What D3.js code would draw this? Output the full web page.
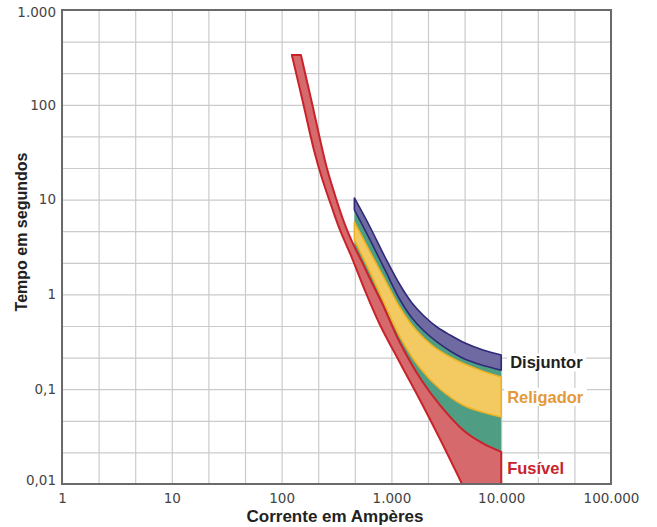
<!DOCTYPE html>
<html>
<head>
<meta charset="utf-8">
<script src="https://cdn.jsdelivr.net/npm/d3@7"></script>
<style>
  body { margin: 0; background: #fff; }
  svg { display: block; }
</style>
</head>
<body>
<div id="chart"></div>
<script>
// ticks
const xTicks = [1, 10, 100, 1000, 10000, 100000];
const xTickLabels = ["1", "10", "100", "1.000", "10.000", "100.000"];
const yTicks = [0.01, 0.1, 1, 10, 100, 1000];
const yTickLabels = ["0,01", "0,1", "1", "10", "100", "1.000"];

// Fusível: minimum melting curve and total clearing curve (A, s)
const fuseMinA = [124, 157, 197, 233, 282, 340, 438, 587, 788, 1200, 1820, 2770, 4400];
const fuseMinT = [335, 104.5, 33.4, 16.9, 8.77, 4.78, 2.42, 1.035, 0.476, 0.189, 0.0769, 0.0298, 0.01];
const fuseMaxA = [150, 189, 254, 306, 370, 438, 540, 666, 821, 1200, 1900, 2770, 4490, 6690, 10000];
const fuseMaxT = [335, 104.5, 23.2, 11.2, 5.8, 3.6, 2.2, 1.32, 0.811, 0.307, 0.122, 0.068, 0.0371, 0.0271, 0.0218];

// Disjuntor
const disjMaxA = [460, 639, 874, 1200, 1540, 1980, 2600, 3420, 4680, 6830, 10000];
const disjMaxT = [10.4, 5.14, 2.48, 1.256, 0.811, 0.592, 0.453, 0.373, 0.307, 0.259, 0.23];
const disjMinA = [460, 639, 874, 1200, 1540, 1980, 2600, 3420, 4880, 7120, 10000];
const disjMinT = [7.77, 3.75, 1.81, 0.873, 0.564, 0.411, 0.315, 0.253, 0.203, 0.176, 0.159];

// Religador
const relMaxA = [460, 639, 874, 1200, 1675, 2390, 3420, 4880, 7120, 10000];
const relMaxT = [5.8, 2.8, 1.42, 0.719, 0.421, 0.285, 0.219, 0.18, 0.152, 0.1345];
const relMinA = [460, 639, 874, 1200, 1820, 2770, 4490, 6690, 10000];
const relMinT = [3.75, 1.72, 0.773, 0.355, 0.167, 0.1005, 0.068, 0.0575, 0.0509];

// where the green zone meets the fuse band on the left
const greenCorner = [460, 2.9];

const width = 657;
const height = 527;
const margin = { top: 10, right: 46, bottom: 43, left: 62 };

const svg = d3.select("#chart")
  .append("svg")
  .attr("width", width)
  .attr("height", height);

const x = d3.scaleLog()
  .domain([1, 100000])
  .range([margin.left, width - margin.right]);

const y = d3.scaleLog()
  .domain([0.01, 1000])
  .range([height - margin.bottom, margin.top]);

// grid every third of a decade
const xGrid = d3.range(0, 16).map(k => Math.pow(10, k / 3));
const yGrid = d3.range(-6, 10).map(k => Math.pow(10, k / 3));

svg.append("g")
  .attr("transform", `translate(0, ${height - margin.bottom})`)
  .call(d3.axisBottom(x).tickValues(xGrid).tickSize(-(height - margin.top - margin.bottom)).tickFormat(""))
  .call(g => g.select(".domain").remove())
  .call(g => g.selectAll("line").attr("stroke", "#cbcbcb").attr("stroke-width", 1.2));

svg.append("g")
  .attr("transform", `translate(${margin.left}, 0)`)
  .call(d3.axisLeft(y).tickValues(yGrid).tickSize(-(width - margin.left - margin.right)).tickFormat(""))
  .call(g => g.select(".domain").remove())
  .call(g => g.selectAll("line").attr("stroke", "#cbcbcb").attr("stroke-width", 1.2));

const pts = (A, T) => A.map((a, i) => [a, T[i]]);

const line = d3.line()
  .x(d => x(d[0]))
  .y(d => y(d[1]))
  .curve(d3.curveCatmullRom.alpha(0.5));

// join several curve pieces into one closed outline
function outline(...pieces) {
  return pieces.map((p, i) => {
    const s = line(p);
    return i === 0 ? s : s.replace(/^M/, "L");
  }).join("") + "Z";
}

const fuseMin = pts(fuseMinA, fuseMinT);
const fuseMax = pts(fuseMaxA, fuseMaxT);
const disjMax = pts(disjMaxA, disjMaxT);
const disjMin = pts(disjMinA, disjMinT);
const relMax = pts(relMaxA, relMaxT);
const relMin = pts(relMinA, relMinT);

const bands = svg.append("g");

// green zone between breaker and fuse
const fuseTail = fuseMax.filter(d => d[0] >= 540).reverse();
bands.append("path")
  .attr("d", outline(disjMin, fuseTail, [greenCorner, greenCorner]))
  .attr("fill", "#4f9e84");

bands.append("path")
  .attr("d", outline(relMax, relMin.slice().reverse()))
  .attr("fill", "#f3ca62")
  .attr("stroke", "#f0b323")
  .attr("stroke-width", 1.6)
  .attr("stroke-linejoin", "round");

bands.append("path")
  .attr("d", outline(disjMax, disjMin.slice().reverse()))
  .attr("fill", "#6f6aa2")
  .attr("stroke", "#2d2a77")
  .attr("stroke-width", 1.6)
  .attr("stroke-linejoin", "round");

const fuseEnd = fuseMaxA[fuseMaxA.length - 1];
bands.append("path")
  .attr("d", outline(fuseMax, [[fuseEnd, 0.01], [fuseEnd, 0.01]], fuseMin.slice().reverse()))
  .attr("fill", "#d6696c")
  .attr("stroke", "#c8232b")
  .attr("stroke-width", 2)
  .attr("stroke-linejoin", "round");

// frame
svg.append("rect")
  .attr("x", margin.left)
  .attr("y", margin.top)
  .attr("width", width - margin.left - margin.right)
  .attr("height", height - margin.top - margin.bottom)
  .attr("fill", "none")
  .attr("stroke", "#6a6a6a")
  .attr("stroke-width", 2);

// tick labels
svg.append("g")
  .attr("transform", `translate(0, ${height - margin.bottom})`)
  .call(d3.axisBottom(x).tickValues(xTicks).tickFormat((d, i) => xTickLabels[i]).tickSize(0).tickPadding(9))
  .call(g => g.select(".domain").remove())
  .call(g => g.selectAll("text")
    .attr("fill", "#444")
    .style("font-family", "DejaVu Sans")
    .style("font-size", "13.5px"));

svg.append("g")
  .attr("transform", `translate(${margin.left}, 0)`)
  .call(d3.axisLeft(y).tickValues(yTicks).tickFormat((d, i) => yTickLabels[i]).tickSize(0).tickPadding(6))
  .call(g => g.select(".domain").remove())
  .call(g => g.selectAll("text")
    .attr("fill", "#444")
    .style("font-family", "DejaVu Sans")
    .style("font-size", "13.5px"))
  .call(g => g.selectAll(".tick").filter(d => d === 1000).select("text").attr("dy", "0.5em"))
  .call(g => g.selectAll(".tick").filter(d => d === 0.01).select("text").attr("dy", "0.05em"));

// axis titles
svg.append("text")
  .attr("x", 335)
  .attr("y", 522)
  .attr("text-anchor", "middle")
  .attr("fill", "#222")
  .style("font-family", "Liberation Sans, Arial, sans-serif")
  .style("font-weight", "bold")
  .style("font-size", "17px")
  .text("Corrente em Ampères");

svg.append("text")
  .attr("transform", "translate(27, 232) rotate(-90)")
  .attr("text-anchor", "middle")
  .attr("fill", "#222")
  .style("font-family", "Liberation Sans, Arial, sans-serif")
  .style("font-weight", "bold")
  .style("font-size", "16px")
  .text("Tempo em segundos");

// band labels, placed at the right end of each band
const labels = [
  { text: "Disjuntor", color: "#1e1e1e", a: disjMaxA[disjMaxA.length - 1], hi: disjMaxT[disjMaxT.length - 1], lo: disjMinT[disjMinT.length - 1], dx: 9 },
  { text: "Religador", color: "#e39a3b", a: relMaxA[relMaxA.length - 1], hi: relMaxT[relMaxT.length - 1], lo: relMinT[relMinT.length - 1], dx: 6 },
  { text: "Fusível", color: "#c8232b", a: fuseEnd, hi: fuseMaxT[fuseMaxT.length - 1], lo: 0.01, dx: 6 }
];

const lab = svg.append("g");
labels.forEach(d => {
  const cy = y(Math.sqrt(d.hi * d.lo));
  const g = lab.append("g");
  const t = g.append("text")
    .attr("x", x(d.a) + d.dx)
    .attr("y", cy)
    .attr("dy", "0.36em")
    .attr("fill", d.color)
    .style("font-family", "Liberation Sans, Arial, sans-serif")
    .style("font-weight", "bold")
    .style("font-size", "16.5px")
    .text(d.text);
  const bb = t.node().getBBox();
  g.insert("rect", "text")
    .attr("x", bb.x - 3)
    .attr("y", bb.y)
    .attr("width", bb.width + 6)
    .attr("height", bb.height)
    .attr("fill", "#fff");
});
</script>
</body>
</html>
